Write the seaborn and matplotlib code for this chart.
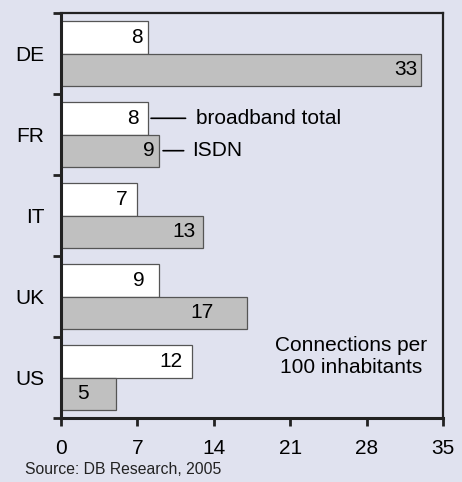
import numpy as np
import pandas as pd
import matplotlib
matplotlib.use("Agg")
import matplotlib.pyplot as plt
import seaborn as sns

# data
countries = ["DE", "FR", "IT", "UK", "US"]
broadband = [8, 8, 7, 9, 12]
isdn = [33, 9, 13, 17, 5]
series = ["broadband total", "ISDN"]
x_ticks = [0, 7, 14, 21, 28, 35]

# where the value labels sit inside the bars (x centre, in axis units)
label_x_broadband = [7.0, 6.6, 5.6, 7.15, 10.1]
label_x_isdn = [31.6, 8.0, 11.3, 12.9, 2.0]

BG = "#e0e2ef"
FS = 15
sns.set_style("white")
plt.rcParams["font.family"] = ["Liberation Sans", "DejaVu Sans"]
plt.rcParams["text.color"] = "black"
plt.rcParams["xtick.color"] = "black"
plt.rcParams["ytick.color"] = "black"

df = pd.DataFrame({
    "country": countries * 2,
    "value": broadband + isdn,
    "series": [series[0]] * len(countries) + [series[1]] * len(countries),
})

fig = plt.figure(figsize=(4.62, 4.82), dpi=100, facecolor=BG)
ax = fig.add_axes([61 / 462, 64 / 482, 382 / 462, 405 / 482])
ax.set_facecolor(BG)

sns.barplot(data=df, y="country", x="value", hue="series", hue_order=series,
            order=countries, orient="h", palette=["white", "#c0c0c0"],
            edgecolor="#555555", linewidth=0.9, width=0.8, legend=False, ax=ax)

ax.set_xlim(0, 35)
ax.set_xticks(x_ticks)
ax.set_xlabel("")
ax.set_ylabel("")

# category labels at centres, ticks at group boundaries
ax.set_yticks(range(len(countries)))
ax.set_yticklabels(countries)
ax.set_yticks(np.arange(-0.5, len(countries), 1.0), minor=True)
ax.tick_params(axis="y", which="major", left=False, length=0, pad=12, labelsize=FS)
ax.tick_params(axis="y", which="minor", left=True, length=6, width=2, direction="out", color="#222222")
ax.tick_params(axis="x", bottom=True, length=6, width=2, direction="out", labelsize=FS, pad=9, color="#222222")

for side in ["left", "bottom"]:
    ax.spines[side].set_linewidth(2.2)
    ax.spines[side].set_color("#222222")
for side in ["top", "right"]:
    ax.spines[side].set_linewidth(1.6)
    ax.spines[side].set_color("#222222")

# value labels inside the bars
for i in range(len(countries)):
    ax.text(label_x_broadband[i], i - 0.2, str(broadband[i]), ha="center", va="center", fontsize=FS)
    ax.text(label_x_isdn[i], i + 0.2, str(isdn[i]), ha="center", va="center", fontsize=FS)

# series callouts at FR
fr = countries.index("FR")
ax.annotate(series[0], xy=(broadband[fr] + 0.25, fr - 0.2), xytext=(12.35, fr - 0.2),
            va="center", fontsize=FS,
            arrowprops=dict(arrowstyle="-", color="black", lw=1.2, shrinkA=5, shrinkB=0))
ax.annotate(series[1], xy=(isdn[fr] + 0.35, fr + 0.2), xytext=(12.05, fr + 0.2),
            va="center", fontsize=FS,
            arrowprops=dict(arrowstyle="-", color="black", lw=1.2, shrinkA=4, shrinkB=0))

ax.text(26.6, 3.74, "Connections per\n100 inhabitants", ha="center", va="center",
        fontsize=FS, linespacing=1.2)

fig.text(25 / 462, 1 - 469 / 482, "Source: DB Research, 2005", ha="left", va="center",
         fontsize=11.3, color="#222222")

fig.savefig("out.png", dpi=100, facecolor=BG)
